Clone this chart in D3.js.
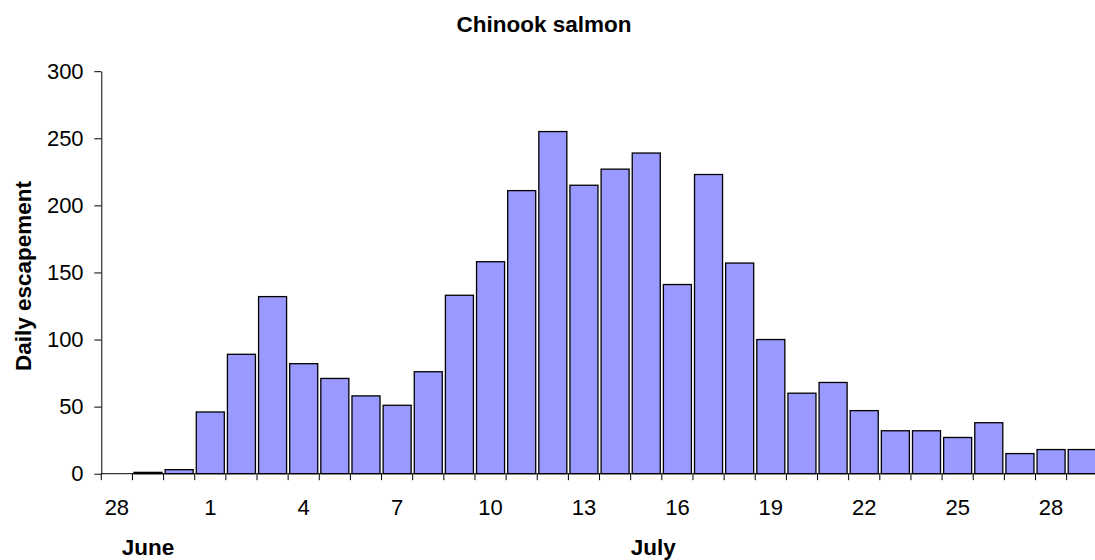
<!DOCTYPE html>
<html>
<head>
<meta charset="utf-8">
<script src="https://cdn.jsdelivr.net/npm/d3@7"></script>
<style>
  body { margin: 0; background: #fff; }
  svg { display: block; font-family: "Liberation Sans", Arial, sans-serif; }
</style>
</head>
<body>
<svg width="1095" height="560"></svg>
<script>
const days = ["Jun 28", "Jun 29", "Jun 30",
  "Jul 1", "Jul 2", "Jul 3", "Jul 4", "Jul 5", "Jul 6", "Jul 7", "Jul 8", "Jul 9", "Jul 10",
  "Jul 11", "Jul 12", "Jul 13", "Jul 14", "Jul 15", "Jul 16", "Jul 17", "Jul 18", "Jul 19", "Jul 20",
  "Jul 21", "Jul 22", "Jul 23", "Jul 24", "Jul 25", "Jul 26", "Jul 27", "Jul 28", "Jul 29"];
const escapement = [0, 1, 3,
  46, 89, 132, 82, 71, 58, 51, 76, 133, 158,
  211, 255, 215, 227, 239, 141, 223, 157, 100, 60,
  68, 47, 32, 32, 27, 38, 15, 18, 18];
const labelledDays = ["Jun 28", "Jul 1", "Jul 4", "Jul 7", "Jul 10", "Jul 13", "Jul 16", "Jul 19", "Jul 22", "Jul 25", "Jul 28"];
const yTicks = [0, 50, 100, 150, 200, 250, 300];
const months = [{ name: "June", at: "Jun 29", shift: 0 }, { name: "July", at: "Jul 15", shift: 7 }];

const svg = d3.select("svg");
const left = 101.3, step = 31.14;
const x = d3.scaleBand().domain(days).range([left, left + days.length * step]).paddingInner(0.1).paddingOuter(0.05);
const y = d3.scaleLinear().domain([0, 300]).range([473.7, 71.2]);
const data = days.map((d, i) => ({ day: d, value: escapement[i] }));
const center = d => x(d) + x.bandwidth() / 2;

// bars
svg.append("g").selectAll("rect").data(data.filter(d => d.value > 0)).join("rect")
  .attr("x", d => x(d.day))
  .attr("y", d => y(d.value))
  .attr("width", x.bandwidth())
  .attr("height", d => y(0) - y(d.value))
  .attr("fill", "#9999ff")
  .attr("stroke", "#000")
  .attr("stroke-width", 1.3);

// y axis
const yAxis = svg.append("g")
  .attr("transform", `translate(${left},0)`)
  .call(d3.axisLeft(y).tickValues(yTicks).tickSize(7).tickSizeOuter(0).tickPadding(10.7));
yAxis.selectAll("text").attr("font-size", 22).attr("font-family", "Liberation Sans, Arial").attr("fill", "#000");
yAxis.selectAll("line, path").attr("stroke", "#000");

// x axis line and boundary ticks
const xg = svg.append("g");
xg.append("line")
  .attr("x1", left).attr("x2", 1095)
  .attr("y1", y(0)).attr("y2", y(0))
  .attr("stroke", "#000");
const bounds = days.map(d => center(d) - x.step() / 2);
xg.selectAll("line.tick").data(bounds).join("line")
  .attr("class", "tick")
  .attr("x1", d => d).attr("x2", d => d)
  .attr("y1", y(0)).attr("y2", y(0) + 6.5)
  .attr("stroke", "#000");
xg.selectAll("text").data(labelledDays).join("text")
  .attr("x", d => center(d))
  .attr("y", y(0) + 41.3)
  .attr("text-anchor", "middle")
  .attr("font-size", 22)
  .text(d => d.split(" ")[1]);

// month labels
svg.append("g").selectAll("text").data(months).join("text")
  .attr("x", d => center(d.at) + d.shift)
  .attr("y", 555)
  .attr("text-anchor", "middle")
  .attr("font-size", 22.5)
  .attr("font-weight", "bold")
  .text(d => d.name);

// titles
svg.append("text")
  .attr("x", 544).attr("y", 31.7)
  .attr("text-anchor", "middle")
  .attr("font-size", 22.5)
  .attr("font-weight", "bold")
  .text("Chinook salmon");

svg.append("text")
  .attr("transform", "translate(31,276) rotate(-90)")
  .attr("text-anchor", "middle")
  .attr("font-size", 22.5)
  .attr("font-weight", "bold")
  .text("Daily escapement");
</script>
</body>
</html>
